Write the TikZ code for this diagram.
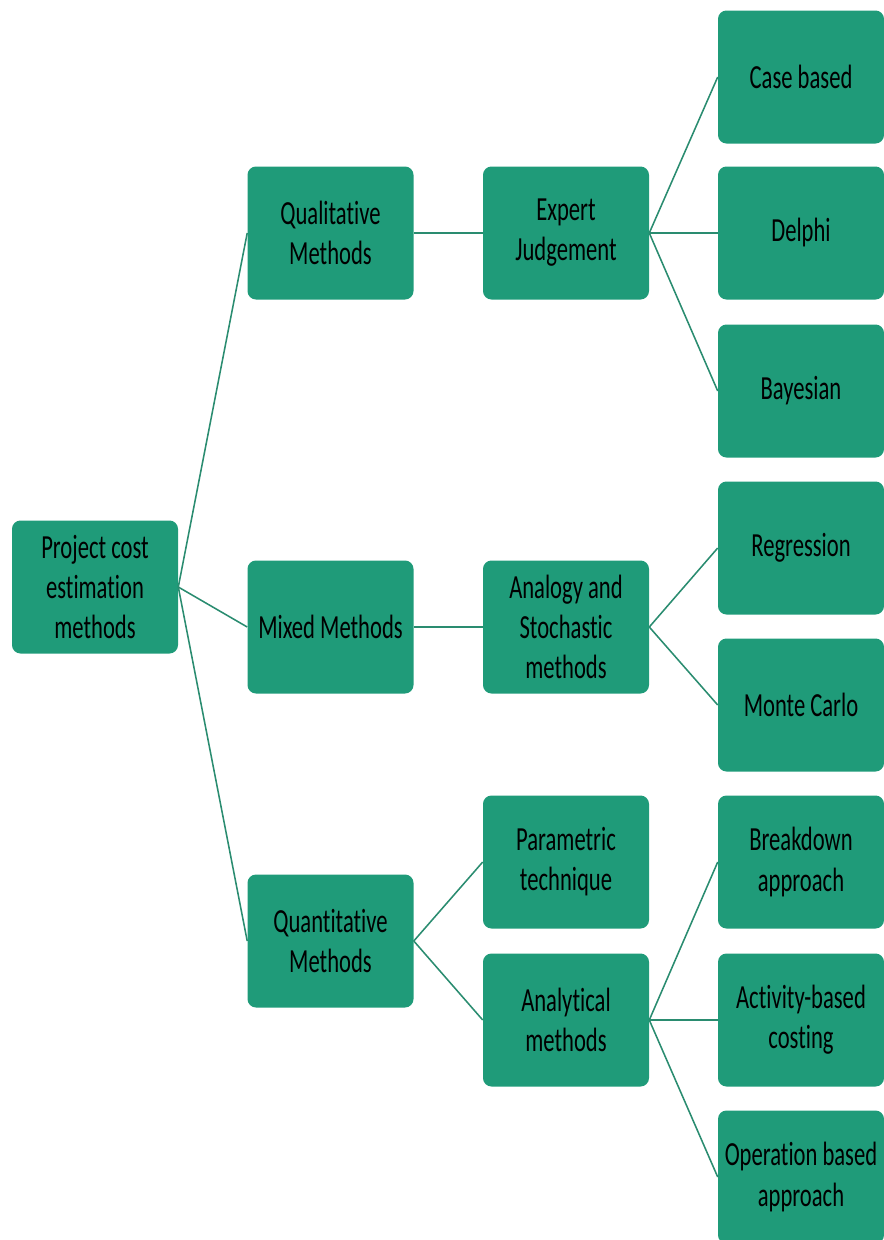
\documentclass[tikz,border=0pt]{standalone}
\usepackage{fontspec}
\setmainfont{Carlito}[FakeStretch=0.67, Ligatures=NoCommon]
\usepackage{xcolor}
\usepackage{tikz}
\usetikzlibrary{positioning}
\definecolor{boxgreen}{HTML}{1F9B79}
\definecolor{linkgreen}{HTML}{2A8C70}

\begin{document}
\begin{tikzpicture}[
    methodbox/.style={rectangle, fill=boxgreen, rounded corners=6pt, text=black,
                      minimum height=3.325cm, minimum width=4.15cm,
                      align=center, inner sep=2pt, font=\fontsize{24}{28.5}\selectfont},
    link/.style={draw=linkgreen, line width=1.1pt},
]
    \useasboundingbox (0,0) rectangle (22.075,-31);

    % ── Coordinates: 4-column grid ──
    \def\colA{2.375}
    \def\colB{8.2625}
    \def\colC{14.15}
    \def\colD{20.025}

    % ── ROOT ──
    \node[methodbox] (root) at (\colA, -14.675) {Project cost\\estimation\\methods};

    % ── FIRST LEVEL ──
    \node[methodbox] (qual)  at (\colB, -5.825)  {Qualitative\\Methods};
    \node[methodbox] (mixed) at (\colB, -15.675) {Mixed Methods};
    \node[methodbox] (quant) at (\colB, -23.525) {Quantitative\\Methods};

    % ── SECOND LEVEL ──
    \node[methodbox] (expert) at (\colC, -5.825)  {Expert\\Judgement};
    \node[methodbox] (analog) at (\colC, -15.675) {Analogy and\\Stochastic\\methods};
    \node[methodbox] (param)  at (\colC, -21.55)  {Parametric\\technique};
    \node[methodbox] (analyt) at (\colC, -25.5)   {Analytical\\methods};

    % ── THIRD LEVEL ──
    \node[methodbox] (case)   at (\colD, -1.925)  {Case based};
    \node[methodbox] (delphi) at (\colD, -5.825)  {Delphi};
    \node[methodbox] (bayes)  at (\colD, -9.775)  {Bayesian};
    \node[methodbox] (regr)   at (\colD, -13.7)   {Regression};
    \node[methodbox] (monte)  at (\colD, -17.625) {Monte Carlo};
    \node[methodbox] (brkdn)  at (\colD, -21.55)  {Breakdown\\approach};
    \node[methodbox] (activ)  at (\colD, -25.5)   {Activity-based\\costing};
    \node[methodbox] (operat) at (\colD, -29.425) {Operation based\\approach};

    % Root to first level
    \foreach \n in {qual, mixed, quant}
        \draw[link] (root.east) -- (\n.west);

    % First level to second level
    \draw[link] (qual.east) -- (expert.west);
    \draw[link] (mixed.east) -- (analog.west);
    \draw[link] (quant.east) -- (param.west);
    \draw[link] (quant.east) -- (analyt.west);

    % Second level to third level
    \foreach \n in {case, delphi, bayes}
        \draw[link] (expert.east) -- (\n.west);
    \foreach \n in {regr, monte}
        \draw[link] (analog.east) -- (\n.west);
    \foreach \n in {brkdn, activ, operat}
        \draw[link] (analyt.east) -- (\n.west);

\end{tikzpicture}
\end{document}
